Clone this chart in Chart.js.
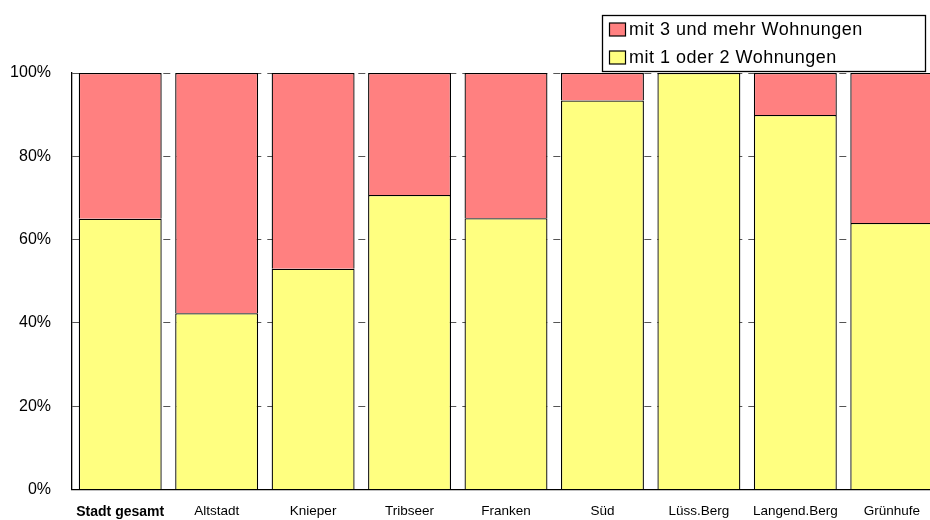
<!DOCTYPE html>
<html>
<head>
<meta charset="utf-8">
<script src="https://cdn.jsdelivr.net/npm/chart.js@4/dist/chart.umd.min.js"></script>
<style>
    html, body { margin: 0; padding: 0; background: #fff; overflow: hidden; }
    #wrap { width: 950px; height: 520px; }
</style>
</head>
<body>
<div id="wrap"><canvas id="chart"></canvas></div>
<script>
// ================= DATA =================
const districts = ["Stadt gesamt", "Altstadt", "Knieper", "Tribseer", "Franken", "Süd", "Lüss.Berg", "Langend.Berg", "Grünhufe"];
const smallHouses = [65.0, 42.3, 53.0, 70.7, 65.1, 93.4, 100, 89.9, 64.0];   // mit 1 oder 2 Wohnungen
const bigHouses = [35.0, 57.7, 47.0, 29.3, 34.9, 6.6, 0, 10.1, 36.0];        // mit 3 und mehr Wohnungen
const yTicks = [0, 20, 40, 60, 80, 100];

const FONT = "'Liberation Sans', Arial, sans-serif";

// ================= LEGEND BOX =================
const boxLegend = {
    id: "boxLegend",
    afterDraw(chart) {
        const ctx = chart.ctx;
        ctx.save();
        ctx.fillStyle = "#fff";
        ctx.fillRect(602.5, 15.5, 323, 56);
        ctx.strokeStyle = "#000";
        ctx.lineWidth = 1.3;
        ctx.strokeRect(602.5, 15.5, 323, 56);

        // top dataset first, like the original
        const items = chart.data.datasets.slice().reverse();
        ctx.font = "18px " + FONT;
        ctx.textBaseline = "middle";
        if ("letterSpacing" in ctx) ctx.letterSpacing = "0.5px";
        items.forEach((ds, i) => {
            const cy = 29.5 + i * 28;
            ctx.fillStyle = ds.backgroundColor;
            ctx.fillRect(609.5, cy - 6.5, 16, 13);
            ctx.lineWidth = 1.2;
            ctx.strokeStyle = "#000";
            ctx.strokeRect(609.5, cy - 6.5, 16, 13);
            ctx.fillStyle = "#000";
            ctx.fillText(ds.label, 629, cy + 1);
        });
        ctx.restore();
    }
};

// ================= CHART =================
new Chart(document.getElementById("chart"), {
    type: "bar",
    data: {
        labels: districts,
        datasets: [
            {
                label: "mit 1 oder 2 Wohnungen",
                data: smallHouses,
                backgroundColor: "#FFFF80",
                borderColor: "#000",
                borderWidth: 1.3
            },
            {
                label: "mit 3 und mehr Wohnungen",
                data: bigHouses,
                backgroundColor: "#FF8080",
                borderColor: "#000",
                borderWidth: 1.3
            }
        ]
    },
    options: {
        responsive: true,
        maintainAspectRatio: false,
        animation: false,
        layout: { padding: { top: 73, right: 10, left: 0, bottom: 0 } },
        datasets: {
            bar: { categoryPercentage: 1, barPercentage: 0.86 }
        },
        plugins: {
            legend: { display: false },
            tooltip: { enabled: false }
        },
        scales: {
            x: {
                stacked: true,
                afterFit: s => { s.height = 30; },
                grid: { display: false, drawTicks: false },
                border: { color: "#000", width: 1.3 },
                ticks: {
                    color: "#000",
                    padding: 14,
                    maxRotation: 0,
                    autoSkip: false,
                    font: c => c.index === 0
                        ? { family: FONT, size: 14, weight: "bold" }
                        : { family: FONT, size: 13.5 }
                }
            },
            y: {
                stacked: true,
                min: 0,
                max: 100,
                afterFit: s => { s.width = 72; },
                afterBuildTicks: s => { s.ticks = yTicks.map(v => ({ value: v })); },
                grid: {
                    color: "#555",
                    drawTicks: false
                },
                border: { color: "#000", width: 1.3, dash: [7, 6] },
                ticks: {
                    color: "#000",
                    padding: 21,
                    font: { family: FONT, size: 16 },
                    callback: v => v + "%"
                }
            }
        }
    },
    plugins: [boxLegend]
});
</script>
</body>
</html>
